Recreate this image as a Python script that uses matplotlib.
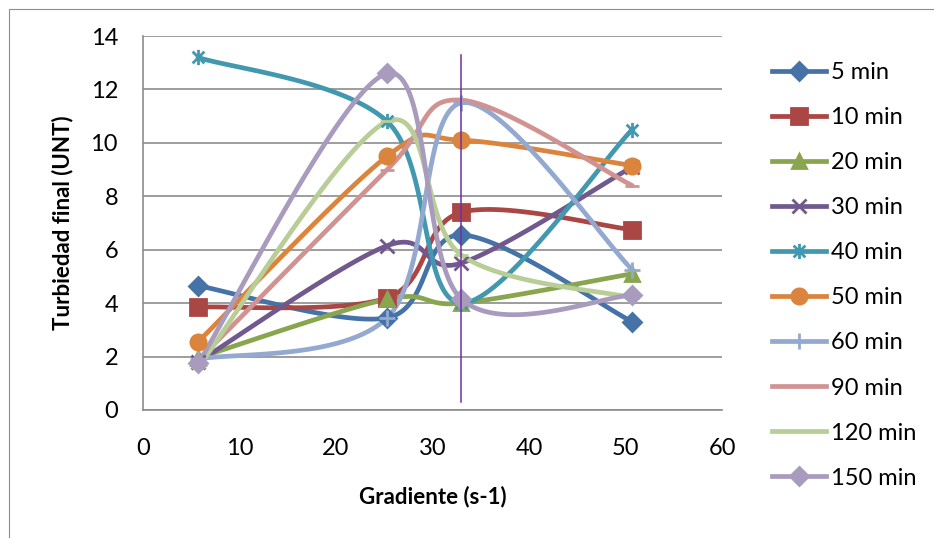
import numpy as np
import matplotlib.pyplot as plt
from matplotlib.path import Path
from matplotlib.patches import Rectangle

plt.rcParams['font.family'] = ['Lato', 'DejaVu Sans']

gradiente = [5.7, 25.3, 33.0, 50.7]
series = {
    '5 min':   [4.65, 3.45, 6.55, 3.3],
    '10 min':  [3.85, 4.2, 7.4, 6.75],
    '20 min':  [1.95, 4.15, 4.0, 5.1],
    '30 min':  [1.8, 6.15, 5.5, 9.1],
    '40 min':  [13.2, 10.8, 4.0, 10.5],
    '50 min':  [2.55, 9.5, 10.1, 9.15],
    '60 min':  [1.9, 3.45, 11.5, 5.25],
    '90 min':  [1.85, 9.0, 11.6, 8.4],
    '120 min': [1.6, 10.8, 5.8, 4.2],
    '150 min': [1.75, 12.6, 4.15, 4.3],
}
g_linea = 33.0  # vertical reference line

colores = ['#4572A7', '#AA4643', '#89A54E', '#71588F', '#4198AF',
           '#DB843D', '#93A9CF', '#D19392', '#B9CD96', '#A99BBD']

# asterisk marker: X plus vertical bar
_v = [(-1, -1), (1, 1), (-1, 1), (1, -1), (0, -1.3), (0, 1.3)]
_c = [Path.MOVETO, Path.LINETO] * 3
asterisco = Path(_v, _c)

marcadores = ['D', 's', '^', 'x', asterisco, 'o', '+', '_', '_', 'D']
tamanos = [9, 11, 10, 10, 11, 11, 12, 10, 10, 9]


def suavizar(x, y, n=40):
    # Bezier smoothing through points (Catmull-Rom style tangents)
    p = np.column_stack([x, y]).astype(float)
    ext = np.vstack([p[0], p, p[-1]])
    out = []
    t = np.linspace(0, 1, n)[:, None]
    for i in range(len(p) - 1):
        p0, p1 = p[i], p[i + 1]
        c1 = p0 + (ext[i + 2] - ext[i]) / 6
        c2 = p1 - (ext[i + 3] - ext[i + 1]) / 6
        seg = ((1 - t) ** 3) * p0 + 3 * ((1 - t) ** 2) * t * c1 \
            + 3 * (1 - t) * t ** 2 * c2 + t ** 3 * p1
        out.append(seg)
    s = np.vstack(out)
    return s[:, 0], s[:, 1]


fig = plt.figure(figsize=(9.34, 5.38), dpi=100)
fig.patches.append(Rectangle((9 / 934, -0.1), 1.2, 1 - 9 / 538 + 0.1,
                             transform=fig.transFigure, fill=False,
                             edgecolor='#8C8C8C', linewidth=0.8))
ax = fig.add_axes([143 / 934, 1 - 410 / 538, (722 - 143) / 934, (410 - 36) / 538])

for (nombre, vals), col, mk, ms in zip(series.items(), colores, marcadores, tamanos):
    xs, ys = suavizar(gradiente, vals)
    ax.plot(xs, ys, color=col, lw=3.4, solid_capstyle='round', zorder=2)
    ax.plot(gradiente, vals, ls='none', marker=mk, ms=ms, color=col,
            mec=col, mew=2, zorder=3)
    ax.plot([], [], color=col, lw=3.4, marker=mk, ms=ms, mec=col, mew=2,
            label=nombre)

ax.plot([g_linea, g_linea], [0.3, 13.3], color='#7030A0', lw=1.1, zorder=4)

ax.set_xlim(0, 60)
ax.set_ylim(0, 14)
ax.set_xticks(range(0, 61, 10))
ax.set_yticks(range(0, 15, 2))
ax.yaxis.grid(True, color='#8C8C8C', lw=1.2)
ax.set_axisbelow(True)
for s in ['top', 'right']:
    ax.spines[s].set_visible(False)
for s in ['left', 'bottom']:
    ax.spines[s].set_color('#8C8C8C')
    ax.spines[s].set_linewidth(1.2)
ax.tick_params(length=0, labelsize=17)
ax.tick_params(axis='x', pad=20)
ax.tick_params(axis='y', pad=18)

ax.set_xlabel('Gradiente (s-1)', fontsize=16, fontweight='bold', labelpad=19)
ax.set_ylabel('Turbiedad final (UNT)', fontsize=16, fontweight='bold', labelpad=12)

ax.legend(loc='upper left', bbox_to_anchor=(772 / 934, 1 - 62 / 538),
          bbox_transform=fig.transFigure, frameon=False, fontsize=17,
          handlelength=2.3, handletextpad=0.2, labelspacing=1.02,
          borderaxespad=0, borderpad=0)

fig.savefig('out.png', dpi=100)
